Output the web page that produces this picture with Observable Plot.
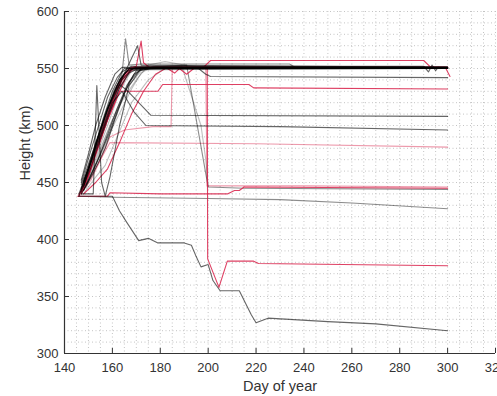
<!DOCTYPE html>
<html><head><meta charset="utf-8">
<script src="https://cdn.jsdelivr.net/npm/d3@7"></script>
<script src="https://cdn.jsdelivr.net/npm/@observablehq/plot@0.6"></script>
<style>body{margin:0;background:#fff}</style>
</head><body><div id="chart"></div>
<script>
const xTicks = [140, 160, 180, 200, 220, 240, 260, 280, 300, 320];
const yTicks = [300, 350, 400, 450, 500, 550, 600];
const xLabel = "Day of year";
const yLabel = "Height (km)";

// tracks: [day, height km]
const blackTracks = [
  [[147,452],[150,475],[153,500],[157,525],[161,545],[164,551],[300,551]],
  [[147,445],[151,468],[155,495],[159,520],[163,540],[167,550],[300,550]],
  [[148,443],[153,465],[158,492],[162,515],[166,535],[170,548],[174,551],[300,551]],
  [[147,440],[152,458],[157,480],[161,505],[165,528],[169,545],[173,550],[300,550]],
  [[148,447],[152,475],[156,505],[160,530],[164,547],[168,552],[290,552],[292,547],[293.5,553],[295,548],[296,551],[300,550]],
  [[146,440],[150,462],[154,490],[158,515],[162,535],[166,548],[170,551],[300,551]],
  [[147,448],[152,478],[157,508],[161,530],[163,536],[166,531],[176,509],[300,508]],
  [[146,438],[149,455],[153,482],[157,510],[161,532],[165,546],[169,550],[300,550]],
  [[148,450],[153,485],[158,515],[162,532],[166,550],[170.5,570],[172,553],[300,551]],
  [[147,442],[151,463],[155,488],[159,512],[163,533],[167,546],[172,551],[300,551]],
  [[149,448],[154,470],[159,495],[163,518],[167,538],[171,548],[176,550],[300,550]],
  [[147,450],[151,478],[155,505],[158,525],[162,542],[165,550],[300,551]],
  [[148,452],[152,472],[156,498],[160,522],[164,540],[168,549],[300,550]]
];
const darkGrayTracks = [
  [[147,444],[151,468],[156,496],[160,520],[164,530],[169,512],[174,500],[230,499],[300,496]],
  [[148,446],[153,482],[158,514],[163,540],[167,550],[196,550],[199,545],[201,543],[300,542]],
  [[146,438],[160,438],[163,425],[166,415],[171,399],[175,401],[179,397],[190,397],[193,395],[195,385],[197,376],[200,378],[202,364],[205,355],[213,355],[218,334],[220,327],[225,331],[250,328],[270,326],[300,320]],
  [[147,440],[152,440],[153.5,535],[155.5,450],[157,438],[159,455],[163,500],[167,535],[172,550],[300,550]]
];
const midGrayTracks = [
  [[146,438],[160,437],[200,436],[230,435],[260,432],[300,427]],
  [[147,441],[152,470],[157,500],[161,525],[164,545],[165.5,576],[167,553],[172,554],[234,554],[237,550],[300,550]],
  [[148,444],[153,476],[158,505],[163,533],[168,550],[191,553],[200,446],[215,445],[300,444]]
];
const lightGrayTracks = [
  [[148,443],[153,472],[158,500],[163,530],[168,548],[189,552],[197,500],[199,470],[200,447]],
  [[149,445],[155,478],[160,505],[165,525],[170,540],[175,553],[182,556],[190,553],[198,551],[300,551]],
  [[150,455],[156,485],[161,510],[166,533],[172,548],[178,552],[300,550]],
  [[148,440],[152,452],[157,465],[162,490],[168,520],[175,540],[182,550],[300,550]],
  [[147,441],[151,458],[156,478],[160,498],[164,515],[168,532],[172,546],[177,552],[300,551]]
];
const redTracks = [
  [[147,440],[151,462],[156,495],[161,528],[165,545],[168,551],[198,551],[201,557],[290,557],[293,551],[299,551],[301,543]],
  [[146,438],[150,455],[155,490],[160,520],[164,540],[168,550],[183,550],[186,546],[188,550],[191,545],[194,550],[199.6,551],[199.8,383],[204.5,358],[208,381],[219,381],[221,379],[300,377]],
  [[148,445],[152,470],[157,500],[161,520],[163,530],[168,530],[179,530],[181,536],[217,536],[219,533],[300,532]],
  [[147,443],[152,475],[157,505],[162,535],[167,550],[170,552],[172,574],[173,555],[176,550],[300,550]],
  [[145.5,438],[158,438],[159,441],[180,440],[208,440],[211,443],[213,443],[215,446],[300,445]],
  [[146,439],[150,456],[154,480],[158,505],[162,525],[166,544],[169,551],[300,551]],
  [[148,440],[153,450],[158,462],[163,485],[168,510],[173,530],[178,545],[183,551],[300,551]]
];
const lightRedTracks = [
  [[147,440],[151,455],[155,470],[159,485],[220,484],[300,481]],
  [[147,442],[152,470],[157,500],[162,530],[166,546],[170,550],[199,551],[199.5,447],[241,447],[300,446]],
  [[147,441],[151,452],[155,470],[159,490],[165,496],[177,499],[184.5,499],[185,550],[300,550]]
];

function flat(tracks, group) {
  return tracks.flatMap((t, i) => t.map(([day, km]) => ({id: group + i, day, km})));
}
const W = 497, H = 396, mL = 64, mR = 2, mT = 11, mB = 43;
const fw = W - mL - mR, fh = H - mT - mB;
const minorX = d3.range(xTicks[0], xTicks[xTicks.length - 1] + 1, 5);
const minorY = d3.range(yTicks[0], yTicks[yTicks.length - 1] + 1, 10);
const gridStyle = {stroke: "#c4c4c4", strokeDasharray: "1,2.5", strokeWidth: 1};
const lineOpts = (stroke, op, sw = 1.1) => ({x: "day", y: "km", z: "id", stroke, strokeOpacity: op, strokeWidth: sw, curve: "linear"});

const chart = Plot.plot({
  width: W, height: H,
  marginLeft: mL, marginRight: mR, marginTop: mT, marginBottom: mB,
  style: {fontFamily: "'Liberation Sans', Arial, sans-serif", fontSize: "13px", color: "#333", background: "#fff"},
  x: {domain: [xTicks[0], xTicks[xTicks.length - 1]], ticks: xTicks, tickSize: 0, tickPadding: 9, label: null},
  y: {domain: [yTicks[0], yTicks[yTicks.length - 1]], ticks: yTicks, tickSize: 0, tickPadding: 6, label: null},
  marks: [
    Plot.ruleX(minorX, {x: d => d, ...gridStyle}),
    Plot.ruleY(minorY, {y: d => d, ...gridStyle}),
    Plot.line(flat(lightRedTracks, "lr"), lineOpts("#d81f48", 0.45)),
    Plot.line(flat(lightGrayTracks, "lg"), lineOpts("#000", 0.25)),
    Plot.line(flat(midGrayTracks, "mg"), lineOpts("#000", 0.45)),
    Plot.line(flat(redTracks, "r"), lineOpts("#d81f48", 0.85)),
    Plot.line(flat(darkGrayTracks, "dg"), lineOpts("#000", 0.6)),
    Plot.line(flat(blackTracks, "b"), lineOpts("#000", 0.6)),
    Plot.ruleX([xTicks[0]], {x: d => d, stroke: "#333", strokeWidth: 1.2}),
    Plot.ruleY([yTicks[0]], {y: d => d, stroke: "#333", strokeWidth: 1.2}),
    Plot.tickX(xTicks, {x: d => d, stroke: "#333", insetTop: fh - 5}),
    Plot.tickY(yTicks, {y: d => d, stroke: "#333", insetRight: fw - 5}),
    Plot.text([xLabel], {text: d => d, frameAnchor: "bottom", dy: 37, lineAnchor: "bottom", fontSize: 14.5, fill: "#333"}),
    Plot.text([yLabel], {text: d => d, frameAnchor: "left", dx: -39, dy: -2, rotate: -90, fontSize: 14.5, fill: "#333"})
  ]
});
document.getElementById("chart").appendChild(chart);
</script>
</body></html>
